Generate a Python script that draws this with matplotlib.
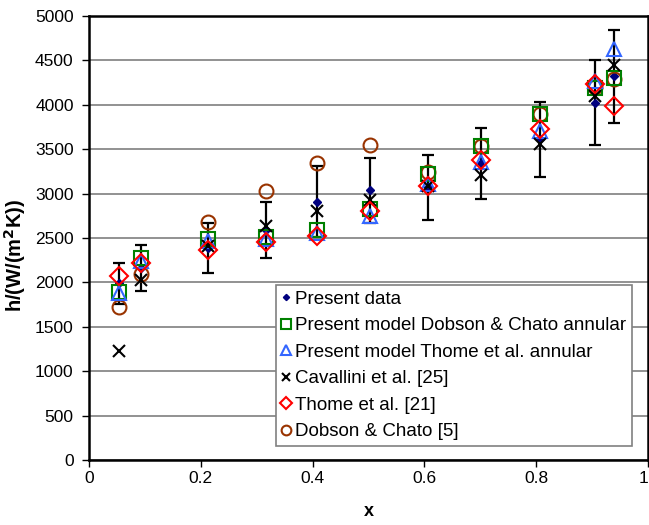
import matplotlib
matplotlib.use("Agg")
import matplotlib.pyplot as plt

plt.rcParams['font.family'] = ['Liberation Sans', 'DejaVu Sans']

x = [0.053, 0.093, 0.212, 0.316, 0.407, 0.503, 0.607, 0.701, 0.807, 0.905, 0.940]
present = [1990, 2160, 2390, 2585, 2910, 3035, 3070, 3340, 3610, 4025, 4320]
present_err = [230, 260, 280, 315, 400, 365, 370, 400, 420, 480, 520]
model_dobson = [1890, 2280, 2490, 2515, 2590, 2825, 3220, 3540, 3900, 4190, 4300]
model_thome = [1880, 2240, 2470, 2490, 2560, 2745, 3110, 3360, 3700, 4270, 4625]
cavallini = [1230, 2030, 2410, 2640, 2800, 2930, 3080, 3210, 3555, 4100, 4450]
thome = [2070, 2220, 2365, 2460, 2520, 2800, 3085, 3375, 3730, 4230, 3985]
dobson = [1720, 2090, 2680, 3030, 3340, 3545, 3240, 3540, 3900, 4200, 4295]

labels = ["Present data",
          "Present model Dobson & Chato annular",
          "Present model Thome et al. annular",
          "Cavallini et al. [25]",
          "Thome et al. [21]",
          "Dobson & Chato [5]"]

fig = plt.figure(figsize=(6.49, 5.25), dpi=100)
ax = fig.add_axes([89/649, 1-460/525, (648-89)/649, (460-16)/525])

ax.set_xlim(0, 1)
ax.set_ylim(0, 5000)
ax.set_yticks(range(0, 5001, 500))
ax.set_xticks([0, 0.2, 0.4, 0.6, 0.8, 1.0])
ax.set_xticklabels(["0", "0.2", "0.4", "0.6", "0.8", "1"])
ax.get_xticklabels()[-1].set_ha('right')
ax.yaxis.grid(True, color='#7f7f7f', lw=1.2)
ax.set_axisbelow(True)
for s in ax.spines.values():
    s.set_linewidth(1.8)
    s.set_color('black')
ax.tick_params(axis='both', direction='out', length=5, width=1, labelsize=12.5, colors='black')
ax.tick_params(axis='y', pad=6)
ax.tick_params(axis='x', pad=3)

ax.errorbar(x, present, yerr=present_err, fmt='none', ecolor='black', elinewidth=1.6,
            capsize=4, capthick=1.6, zorder=2)
h0, = ax.plot(x, present, ls='none', marker='D', ms=4.5, color='#00007f', zorder=3)
h1, = ax.plot(x, model_dobson, ls='none', marker='s', ms=10, mfc='none', mec='#008000', mew=1.5, zorder=4)
h2, = ax.plot(x, model_thome, ls='none', marker='^', ms=10, mfc='none', mec='#3366ff', mew=1.5, zorder=5)
h3, = ax.plot(x, cavallini, ls='none', marker='x', ms=9, color='black', mew=1.5, zorder=6)
h4, = ax.plot(x, thome, ls='none', marker='D', ms=9, mfc='none', mec='#ff0000', mew=1.5, zorder=7)
h5, = ax.plot(x, dobson, ls='none', marker='o', ms=10, mfc='none', mec='#993300', mew=1.5, zorder=3.5)

leg = ax.legend([h0, h1, h2, h3, h4, h5], labels, loc='lower right',
                bbox_to_anchor=((632-89)/559, 14/444), borderaxespad=0,
                fontsize=13.5, handlelength=0.5, handletextpad=0.25, labelspacing=0.5,
                borderpad=0.3, fancybox=False, framealpha=1, markerscale=0.7)
leg.get_frame().set_edgecolor('#808080')
leg.get_frame().set_linewidth(1.2)

ax.set_xlabel('x', fontsize=13, fontweight='bold', labelpad=12)
ax.set_ylabel('h/(W/(m$^\\mathbf{2}$K))', fontsize=14.5, fontweight='bold', labelpad=0)
ax.yaxis.set_label_coords(-0.11, 0.46)

fig.savefig('out.png', dpi=100)
